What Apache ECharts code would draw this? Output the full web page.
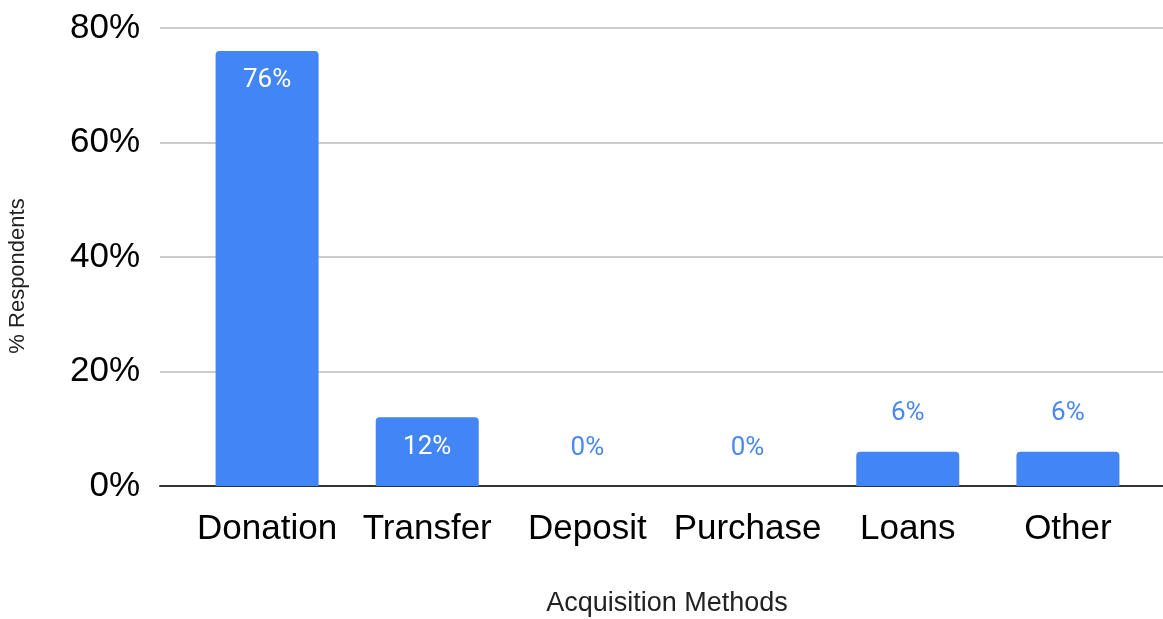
<!DOCTYPE html>
<html>
<head>
<meta charset="utf-8">
<script src="https://cdn.jsdelivr.net/npm/echarts@6/dist/echarts.min.js"></script>
<style>
  html, body { margin: 0; padding: 0; background: #ffffff; }
  #chart { width: 1163px; height: 619px; }
</style>
</head>
<body>
<div id="chart"></div>
<script>
// Survey results: share of respondents by acquisition method
const categories = ['Donation', 'Transfer', 'Deposit', 'Purchase', 'Loans', 'Other'];
const respondentShare = [76, 12, 0, 0, 6, 6];
const yTicks = [0, 20, 40, 60, 80];

const BAR_BLUE = '#4285F4';
const LABEL_FONT = 'Roboto, "Liberation Sans", Arial, sans-serif';
const AXIS_FONT = '"Liberation Sans", Arial, sans-serif';

const yMin = yTicks[0];
const yMax = yTicks[yTicks.length - 1];
const yStep = yTicks[1] - yTicks[0];

// tall bars carry their label inside, short ones above
const barData = respondentShare.map(v => {
  const inside = v >= 10;
  return {
    value: v,
    label: inside
      ? { position: 'insideTop', distance: 17, color: '#ffffff' }
      : { position: 'top', distance: 25, color: '#4a88f0' }
  };
});

const chart = echarts.init(document.getElementById('chart'), null, { renderer: 'canvas' });

chart.setOption({
  animation: false,
  grid: [
    // frame for gridlines and value labels
    { left: 160, right: 0, top: 28, bottom: 133, containLabel: false },
    // category band holding the bars
    { left: 187, width: 961, top: 28, bottom: 133, containLabel: false }
  ],
  xAxis: [
    {
      gridIndex: 0, type: 'category', data: [''],
      axisLine: { show: true, lineStyle: { color: '#333333', width: 2 } },
      axisTick: { show: false }, axisLabel: { show: false }, splitLine: { show: false }
    },
    {
      gridIndex: 1, type: 'category', data: categories,
      axisLine: { show: false }, axisTick: { show: false },
      axisLabel: {
        margin: 26, color: '#000000', fontSize: 35, fontFamily: AXIS_FONT,
        interval: 0
      }
    }
  ],
  yAxis: [
    {
      gridIndex: 0, type: 'value', min: yMin, max: yMax, interval: yStep,
      axisLine: { show: false }, axisTick: { show: false },
      axisLabel: {
        margin: 20, color: '#000000', fontSize: 35, fontFamily: AXIS_FONT,
        formatter: v => v + '%'
      },
      splitLine: { show: true, lineStyle: { color: '#cccccc', width: 2 } }
    },
    {
      gridIndex: 1, type: 'value', min: yMin, max: yMax, interval: yStep,
      axisLine: { show: false }, axisTick: { show: false },
      axisLabel: { show: false }, splitLine: { show: false }
    }
  ],
  series: [{
    type: 'bar',
    xAxisIndex: 1, yAxisIndex: 1,
    data: barData,
    barWidth: 103,
    itemStyle: { color: BAR_BLUE, borderRadius: [4, 4, 0, 0] },
    label: {
      show: true, fontSize: 26, fontFamily: LABEL_FONT,
      formatter: p => p.value + '%'
    }
  }],
  graphic: [
    {
      type: 'text', x: 667, y: 604,
      style: {
        text: 'Acquisition Methods', fontSize: 27, fontFamily: AXIS_FONT,
        fill: '#222222', x: 0, y: 0, align: 'center', verticalAlign: 'middle'
      }
    },
    {
      type: 'text', rotation: Math.PI / 2, x: 18, y: 276,
      style: {
        text: '% Respondents', fontSize: 22, fontFamily: AXIS_FONT,
        fill: '#222222', x: 0, y: 0, align: 'center', verticalAlign: 'middle'
      }
    }
  ]
});
</script>
</body>
</html>
